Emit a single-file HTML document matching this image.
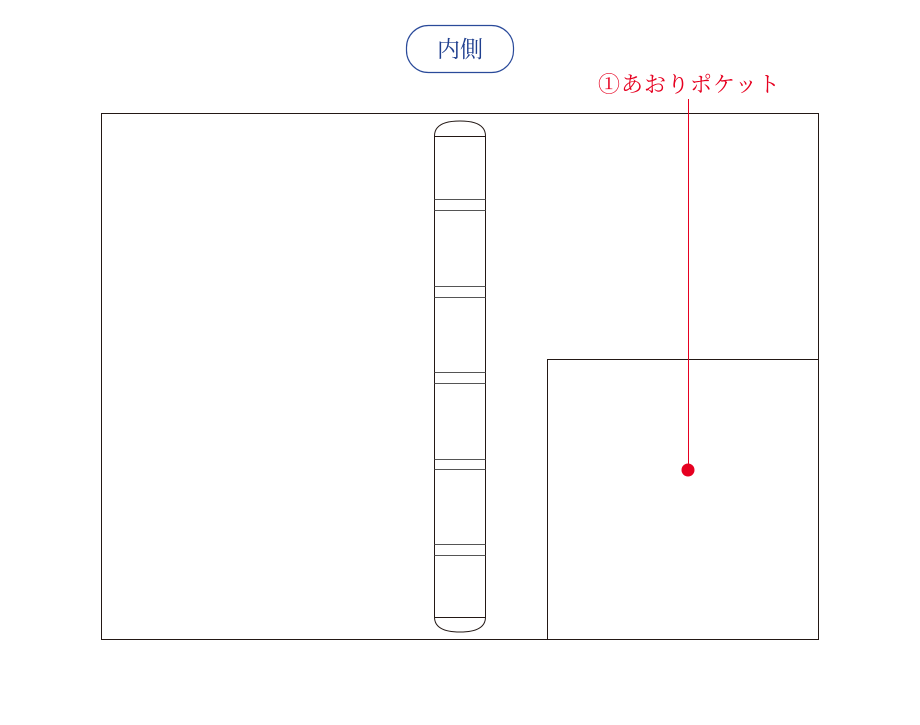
<!DOCTYPE html>
<html><head><meta charset="utf-8"><style>
body{margin:0;background:#fff;width:920px;height:720px;overflow:hidden}
</style></head><body>
<svg width="920" height="720" xmlns="http://www.w3.org/2000/svg">
<rect x="406.5" y="25.5" width="107" height="47" rx="22" fill="none" stroke="#2a4a9a" stroke-width="1.2"/>
<text x="460" y="57" text-anchor="middle" font-family="'Liberation Serif','Noto Serif CJK SC',serif" font-size="23" fill="#1f3f8f">内側</text>
<text x="598" y="92" font-family="'Liberation Serif','Noto Serif CJK SC',serif" font-size="22" fill="#e60020" letter-spacing="1">①あおりポケット</text>
<rect x="101.5" y="113.5" width="717" height="526" fill="none" stroke="#231815" stroke-width="1"/>
<rect x="547.5" y="359.5" width="271" height="280" fill="none" stroke="#231815" stroke-width="1"/>
<g fill="none" stroke="#231815" stroke-width="1">
<path d="M434.5 136 Q434.5 121 460 121 Q485.5 121 485.5 136 L485.5 617 Q485.5 632 460 632 Q434.5 632 434.5 617 Z"/>
<line x1="434.5" y1="136.5" x2="485.5" y2="136.5"/>
<line x1="434.5" y1="617.5" x2="485.5" y2="617.5"/>
<g stroke="#555">
<line x1="434.5" y1="199.5" x2="485.5" y2="199.5"/><line x1="434.5" y1="210.5" x2="485.5" y2="210.5"/>
<line x1="434.5" y1="286.5" x2="485.5" y2="286.5"/><line x1="434.5" y1="297.5" x2="485.5" y2="297.5"/>
<line x1="434.5" y1="372.5" x2="485.5" y2="372.5"/><line x1="434.5" y1="383.5" x2="485.5" y2="383.5"/>
<line x1="434.5" y1="459.5" x2="485.5" y2="459.5"/><line x1="434.5" y1="469.5" x2="485.5" y2="469.5"/>
<line x1="434.5" y1="544.5" x2="485.5" y2="544.5"/><line x1="434.5" y1="555.5" x2="485.5" y2="555.5"/>
</g></g>
<line x1="688.5" y1="99" x2="688.5" y2="470" stroke="#e60020" stroke-width="1"/>
<circle cx="688" cy="470" r="6.5" fill="#e60020"/>
</svg>
</body></html>
